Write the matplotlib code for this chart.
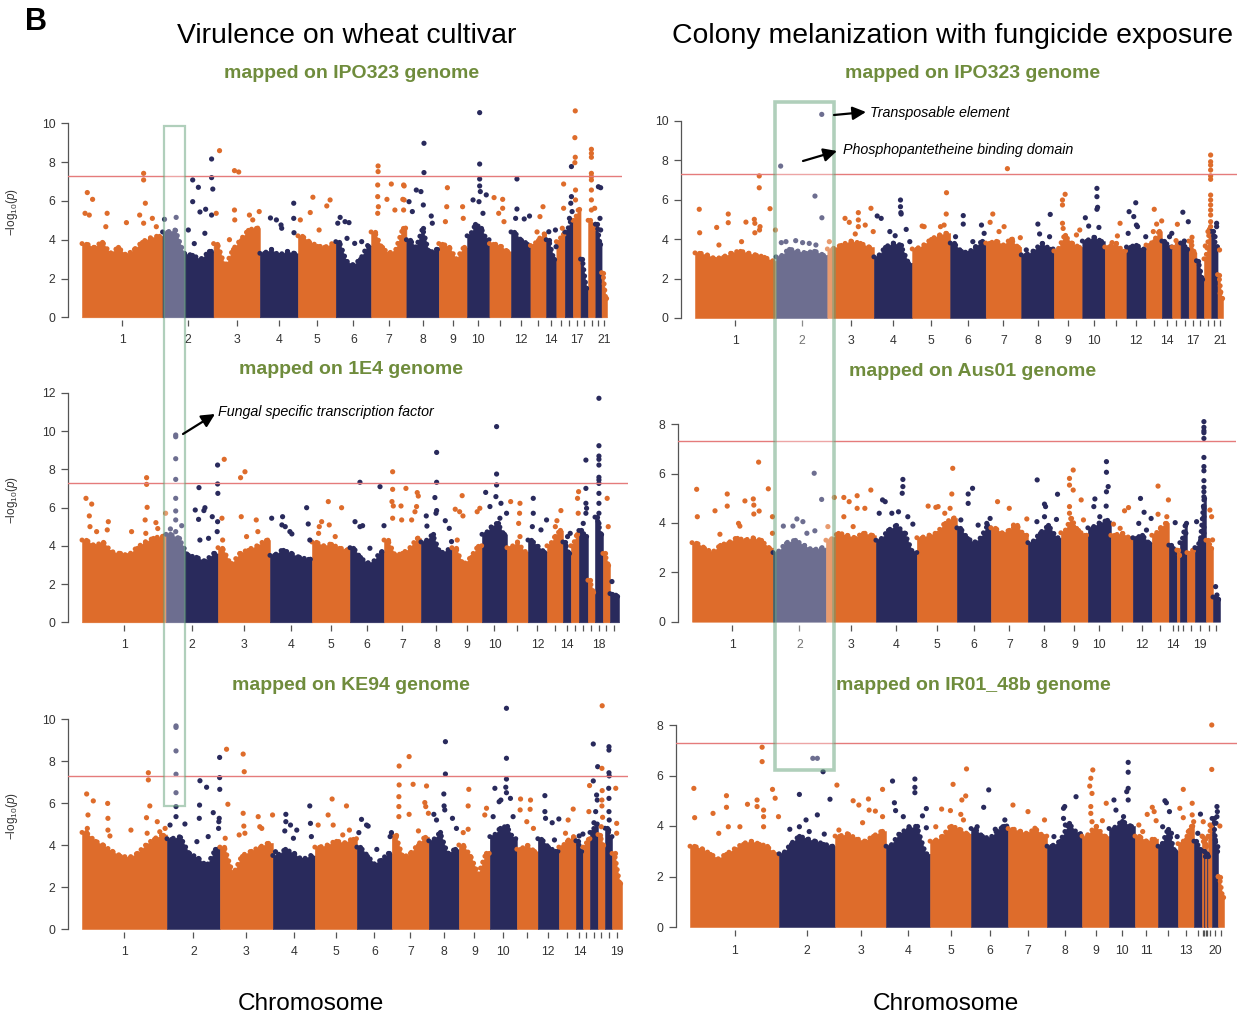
import matplotlib
matplotlib.use('Agg')
import matplotlib.pyplot as plt
from matplotlib.patches import Rectangle
import numpy as np

plt.rcParams['font.family'] = ['Liberation Sans', 'DejaVu Sans']
plt.rcParams['mathtext.fontset'] = 'custom'
plt.rcParams['mathtext.rm'] = 'Liberation Sans'
plt.rcParams['mathtext.it'] = 'Liberation Sans:italic'

W, H = 1244, 1017
ORANGE = '#DE6C2B'
NAVY = '#292A5C'
GREEN = '#6F8C3C'
THRESH = -np.log10(5e-8)

# ---------------- data ----------------
# chromosome lengths (Mb)
ipo_len = [6.09, 3.86, 3.50, 2.88, 2.86, 2.67, 2.67, 2.45, 2.14, 1.69, 1.63,
           1.47, 1.19, 0.77, 0.64, 0.61, 0.58, 0.57, 0.55, 0.47, 0.41]
ipo_names = list(range(1, 22))
e14_len = [6.32, 3.91, 3.91, 3.16, 2.86, 2.56, 2.78, 2.33, 2.26, 1.88, 1.58,
           1.43, 1.20, 0.60, 0.60, 0.68, 0.53, 0.60, 0.53, 0.68]
e14_names = list(range(1, 21))
ke_len = [6.39, 3.98, 3.98, 3.16, 3.16, 2.63, 2.78, 2.26, 2.33, 2.03, 1.58,
          1.58, 1.28, 0.53, 0.53, 0.60, 0.53, 0.53, 0.75]
ke_names = list(range(1, 20))
aus_len = [6.09, 3.98, 3.76, 3.08, 3.01, 2.56, 2.78, 2.48, 2.03, 1.73, 1.65,
           1.43, 1.28, 0.60, 0.23, 0.53, 0.60, 0.83, 0.53, 0.53]
aus_names = list(range(1, 15)) + list(range(16, 22))
ir_len = [6.69, 4.21, 3.83, 3.31, 3.08, 2.78, 2.93, 2.63, 2.03, 1.95, 1.73,
          1.50, 1.20, 0.60, 0.15, 0.08, 0.15, 0.08, 0.30, 0.45, 0.45]
ir_names = list(range(1, 22))

# upper edge of the dense SNP cloud, per chromosome (-log10 p)
vir_ipo_env = [[3.8, 3.6, 3.9, 3.3, 3.6, 3.2, 3.5, 3.9, 4.1, 4.2], [4.4, 4.5, 3.3, 3.2, 3.0, 3.4],
               [3.8, 2.6, 3.5, 4.0, 4.5, 4.6], [3.3, 3.5, 3.2, 3.4, 3.3], [4.2, 3.9, 3.7, 3.6, 3.8],
               [3.9, 2.9, 2.7, 3.0, 3.7], [4.4, 3.6, 3.3, 3.5, 4.6], [4.0, 3.6, 4.6, 3.3, 3.5],
               [3.8, 3.6, 3.0, 3.6], [4.2, 4.8, 4.6, 4.0], [3.8, 3.7, 3.4], [4.4, 4.0, 3.8],
               [3.7, 4.0, 4.3], [4.0, 3.0], [3.9, 4.3], [4.4, 5.0], [5.0, 5.6], [3.0, 1.5],
               [5.0, 4.6], [4.8, 3.8], [2.3, 1.0]]
vir_e14_env = [[4.3, 4.0, 4.2, 3.7, 3.6, 3.5, 3.9, 4.2, 4.4, 4.5], [4.6, 4.4, 3.5, 3.4, 3.2, 3.6],
               [3.9, 3.0, 3.6, 3.8, 4.0, 4.3], [3.5, 3.8, 3.6, 3.4, 3.3], [4.2, 4.0, 4.1, 3.9, 3.8],
               [3.9, 3.4, 3.1, 3.2, 3.7], [4.3, 3.5, 3.6, 3.9, 4.4], [4.2, 4.6, 3.6, 3.8],
               [3.9, 3.0, 3.4, 4.0], [4.6, 5.0, 5.2, 4.6], [3.9, 4.2, 3.7], [4.3, 4.0, 3.7],
               [4.0, 4.5, 4.8], [4.2, 3.6], [4.0, 4.6], [4.8, 4.5], [2.2, 1.6], [5.5, 4.6],
               [3.6, 3.0], [1.5, 1.4]]
vir_ke_env = [[4.6, 4.2, 4.0, 3.7, 3.5, 3.4, 3.6, 4.0, 4.3, 4.5], [4.3, 4.4, 3.6, 3.4, 3.0, 3.8],
              [3.9, 2.6, 3.5, 3.7, 3.9, 4.1], [3.5, 3.8, 3.6, 3.3, 3.5], [3.9, 4.0, 4.2, 4.1, 4.3],
              [3.9, 3.5, 3.1, 3.3, 3.6], [4.5, 3.4, 3.6, 4.0, 4.4], [4.2, 4.6, 3.6, 3.8],
              [4.0, 3.5, 2.6, 3.6], [4.4, 4.8, 4.9, 4.3], [3.8, 4.0, 3.7], [4.3, 3.9, 3.7],
              [3.9, 4.2, 4.4], [4.2, 3.7], [3.9, 4.3], [4.6, 5.0], [4.5, 4.0], [4.8, 4.4],
              [3.6, 2.2]]
col_ipo_env = [[3.3, 3.2, 3.0, 3.1, 3.3, 3.4, 3.3, 3.2, 3.1, 2.9], [3.1, 3.5, 3.4, 3.3, 3.4, 3.2],
               [3.5, 3.7, 3.9, 3.8, 3.6], [3.1, 3.6, 3.8, 3.7, 2.8], [3.5, 3.7, 4.0, 4.2, 4.3],
               [3.8, 3.4, 3.3, 3.6, 3.9], [3.8, 3.9, 3.7, 4.0, 3.6], [3.2, 3.4, 3.8, 3.5],
               [3.4, 4.2, 3.8, 3.6], [3.9, 4.1, 3.9], [3.6, 3.8, 3.4], [3.6, 3.7, 3.5],
               [3.7, 3.9, 4.4], [3.9, 3.6], [3.6, 3.8], [3.8, 3.5], [3.9, 3.3], [2.9, 2.0],
               [3.0, 4.5], [4.4, 3.6], [2.2, 1.0]]
col_aus_env = [[3.2, 3.0, 2.8, 3.1, 3.2, 3.4, 3.3, 3.4, 3.3, 3.0], [2.8, 3.2, 3.3, 3.1, 2.9, 3.0],
               [3.3, 3.6, 3.5, 3.4, 3.6, 3.5], [3.3, 3.7, 3.9, 3.6, 2.8], [3.4, 3.5, 3.6, 4.0, 4.2],
               [3.8, 3.4, 3.2, 3.4, 3.9], [3.8, 3.6, 3.7, 3.9, 3.5], [3.2, 3.6, 3.9, 3.4],
               [3.6, 4.2, 3.7, 3.5], [3.8, 4.0, 4.1], [3.5, 3.6, 3.4], [3.4, 3.5, 3.2],
               [3.5, 3.8, 4.0], [3.1, 2.9], [2.9, 2.7], [3.2, 3.9], [2.8, 2.9], [3.0, 3.3, 5.0],
               [3.3, 3.0], [1.0, 0.9]]
col_ir_env = [[3.2, 3.1, 2.9, 2.7, 2.9, 3.1, 3.3, 3.4, 3.3, 3.2, 2.9], [2.9, 3.3, 3.6, 3.5, 3.4, 3.3, 3.2],
              [3.6, 3.7, 3.5, 3.4, 3.6, 3.8], [3.2, 3.7, 3.9, 4.0, 2.9], [3.4, 3.6, 4.0, 3.9, 3.7],
              [3.9, 3.6, 3.5, 3.8, 4.0], [3.9, 3.8, 3.7, 3.9, 3.6], [3.2, 3.4, 4.1, 3.7],
              [3.6, 4.0, 3.6], [3.9, 4.2, 4.0], [3.6, 3.4, 3.5], [3.2, 3.9, 3.0],
              [3.3, 3.5, 4.0], [3.4, 3.1], [3.6, 3.4], [3.0, 2.8], [3.5, 3.2], [2.9, 2.8],
              [3.6, 4.0], [4.3, 3.0], [2.0, 1.2]]

# SNPs standing out above the cloud: (chromosome, position Mb, -log10 p)
vir_ipo_hits = [
    (1, 0.40, 6.43), (1, 0.80, 6.08), (1, 0.23, 5.36), (1, 0.55, 5.27), (1, 1.90, 5.36), (1, 1.80, 4.67),
    (1, 3.36, 4.88), (1, 4.36, 5.27), (1, 4.66, 7.42), (1, 4.66, 7.08), (1, 4.79, 5.88), (1, 4.66, 4.85),
    (1, 5.32, 5.10), (1, 5.62, 4.67),
    (2, 0.15, 5.05), (2, 1.03, 5.15), (2, 2.28, 7.08), (2, 2.28, 5.96), (2, 2.71, 6.70), (2, 2.83, 5.43),
    (2, 3.26, 5.57), (2, 3.71, 8.16), (2, 3.71, 7.20), (2, 3.80, 6.61), (2, 3.71, 5.27), (2, 1.95, 4.50),
    (2, 2.40, 3.80), (2, 3.20, 4.33),
    (3, 0.45, 8.59), (3, 0.20, 5.36), (3, 1.58, 7.56), (3, 1.90, 7.49), (3, 1.58, 5.53), (3, 1.60, 5.02),
    (3, 2.71, 5.27), (3, 2.96, 5.02), (3, 3.45, 5.45), (3, 1.20, 4.00),
    (4, 0.80, 5.12), (4, 1.25, 5.02), (4, 1.60, 4.76), (4, 1.65, 4.59), (4, 2.56, 5.88), (4, 2.56, 5.10),
    (4, 2.58, 4.36),
    (5, 1.13, 6.19), (5, 0.93, 5.40), (5, 2.18, 5.74), (5, 2.43, 6.05), (5, 0.18, 5.02), (5, 1.60, 4.50),
    (6, 0.33, 5.15), (6, 0.70, 4.93), (6, 1.00, 4.88), (6, 0.15, 4.85), (6, 0.85, 4.07), (6, 1.43, 3.81),
    (6, 1.96, 3.90),
    (7, 0.53, 7.80), (7, 0.53, 7.51), (7, 0.50, 6.82), (7, 0.50, 6.22), (7, 0.55, 5.70), (7, 0.50, 5.36),
    (7, 1.53, 6.87), (7, 1.20, 6.08), (7, 2.46, 6.82), (7, 2.50, 6.77), (7, 2.40, 6.08), (7, 2.50, 6.05),
    (7, 2.46, 5.53), (7, 1.80, 5.53),
    (8, 1.33, 8.97), (8, 1.33, 7.46), (8, 0.75, 6.56), (8, 1.10, 6.48), (8, 0.20, 5.96), (8, 1.28, 5.79),
    (8, 0.45, 5.45), (8, 1.88, 5.22), (8, 1.96, 4.85),
    (9, 0.65, 6.68), (9, 0.60, 5.70), (9, 1.80, 5.70), (9, 1.85, 5.10), (9, 0.50, 4.93),
    (10, 0.95, 10.55), (10, 0.95, 7.90), (10, 0.95, 7.13), (10, 0.95, 6.77), (10, 1.00, 6.48),
    (10, 0.45, 6.05), (10, 1.45, 6.31), (10, 0.90, 5.96), (10, 1.20, 5.36),
    (11, 0.35, 6.17), (11, 1.00, 6.08), (11, 1.00, 5.62), (11, 0.70, 5.36), (11, 1.10, 4.93),
    (12, 0.45, 7.13), (12, 0.45, 5.58), (12, 1.00, 5.07), (12, 1.40, 5.22), (12, 0.35, 5.10),
    (13, 0.95, 5.70), (13, 0.72, 5.19), (13, 0.50, 4.40),
    (14, 0.20, 4.41), (14, 0.70, 4.50), (14, 0.75, 3.64),
    (15, 0.55, 6.87), (15, 0.55, 5.62), (15, 0.45, 4.59),
    (16, 0.50, 7.77), (16, 0.50, 6.22), (16, 0.45, 5.88), (16, 0.35, 5.10), (16, 0.55, 5.45),
    (17, 0.18, 10.64), (17, 0.15, 9.26), (17, 0.18, 8.25), (17, 0.15, 7.97), (17, 0.20, 6.56), (17, 0.20, 6.05),
    (19, 0.25, 8.66), (19, 0.25, 8.45), (19, 0.25, 8.25), (19, 0.25, 7.42), (19, 0.25, 7.25), (19, 0.25, 7.08),
    (19, 0.25, 6.56), (19, 0.25, 6.05), (19, 0.25, 5.53), (19, 0.50, 5.62),
    (20, 0.23, 6.73), (20, 0.40, 6.68), (20, 0.35, 5.10), (20, 0.40, 4.50),
]
vir_e14_hits = [
    (1, 0.30, 6.48), (1, 0.73, 6.18), (1, 0.55, 5.56), (1, 0.60, 5.00), (1, 1.10, 4.74), (1, 1.98, 5.26),
    (1, 1.90, 4.83), (1, 3.73, 4.74), (1, 4.86, 7.56), (1, 4.86, 7.21), (1, 4.90, 6.01), (1, 4.75, 5.35),
    (1, 4.80, 4.65), (1, 5.56, 5.21), (1, 5.70, 4.90), (1, 6.29, 5.70),
    (2, 0.73, 9.79), (2, 0.73, 9.70), (2, 0.73, 8.55), (2, 0.73, 7.47), (2, 0.73, 6.48), (2, 0.73, 5.82),
    (2, 0.73, 5.35), (2, 0.73, 4.74), (2, 1.18, 5.05), (2, 0.33, 4.88), (2, 2.48, 7.04), (2, 2.20, 5.87),
    (2, 2.45, 5.38), (2, 2.93, 5.99), (2, 2.85, 5.84), (2, 3.48, 5.52), (2, 3.88, 8.22), (2, 3.88, 7.23),
    (2, 3.90, 6.74), (2, 3.88, 5.26), (2, 3.85, 4.74), (2, 2.55, 4.30), (2, 3.20, 4.39),
    (3, 0.47, 8.52), (3, 1.70, 7.56), (3, 2.03, 7.87), (3, 1.75, 5.52), (3, 0.30, 5.44), (3, 2.88, 5.35),
    (3, 3.00, 4.74), (3, 0.35, 4.30), (3, 2.15, 4.48),
    (4, 0.13, 5.44), (4, 0.95, 5.52), (4, 0.90, 5.09), (4, 1.15, 5.00), (4, 1.50, 4.74), (4, 1.65, 4.62),
    (4, 2.76, 5.99), (4, 2.88, 5.14), (4, 3.00, 4.30),
    (5, 0.55, 5.00), (5, 1.23, 6.31), (5, 2.23, 5.99), (5, 0.73, 5.26), (5, 1.30, 5.09), (5, 1.75, 4.48),
    (5, 0.50, 4.65),
    (6, 0.75, 7.32), (6, 0.38, 5.26), (6, 0.75, 5.00), (6, 0.95, 5.05), (6, 2.26, 7.09), (6, 2.56, 5.05),
    (6, 1.50, 3.87),
    (7, 0.65, 7.87), (7, 0.65, 6.95), (7, 0.60, 6.31), (7, 0.70, 6.08), (7, 0.65, 5.44), (7, 1.28, 6.08),
    (7, 1.33, 5.35), (7, 1.65, 7.00), (7, 2.50, 6.78), (7, 2.58, 6.60), (7, 2.45, 6.05), (7, 2.33, 5.78),
    (7, 2.08, 5.35),
    (8, 1.18, 8.88), (8, 1.18, 7.32), (8, 1.05, 6.52), (8, 1.18, 5.84), (8, 1.13, 5.70), (8, 0.40, 5.56),
    (8, 0.45, 5.03), (8, 1.83, 5.31), (8, 2.13, 4.91), (8, 2.30, 4.22),
    (9, 0.77, 6.62), (9, 0.25, 5.91), (9, 0.58, 5.78), (9, 0.83, 5.56), (9, 2.10, 5.96), (9, 1.90, 5.78),
    (9, 0.40, 4.30),
    (10, 1.10, 10.23), (10, 1.10, 7.75), (10, 1.10, 7.18), (10, 1.05, 6.57), (10, 0.28, 6.79),
    (10, 0.60, 6.05), (10, 1.43, 6.22), (10, 1.85, 5.70), (10, 1.35, 5.44),
    (11, 0.28, 6.31), (11, 0.98, 6.22), (11, 0.95, 5.70), (11, 0.88, 5.17), (11, 0.98, 4.48),
    (12, 0.40, 6.48), (12, 0.40, 5.70), (12, 0.33, 5.00), (12, 1.40, 5.35), (12, 0.98, 4.83),
    (13, 1.05, 5.84), (13, 0.75, 5.31), (13, 0.63, 5.00),
    (14, 0.55, 4.65), (14, 0.35, 4.48),
    (15, 0.50, 6.48), (15, 0.58, 6.83), (15, 0.55, 5.70),
    (16, 0.53, 8.48), (16, 0.53, 7.00), (16, 0.53, 6.22), (16, 0.58, 5.96), (16, 0.53, 5.70), (16, 0.33, 5.17),
    (18, 0.30, 11.71), (18, 0.30, 9.23), (18, 0.30, 8.69), (18, 0.30, 8.52), (18, 0.30, 8.22), (18, 0.30, 7.58),
    (18, 0.30, 7.44), (18, 0.30, 7.26), (18, 0.30, 6.74), (18, 0.30, 6.22), (18, 0.30, 5.70), (18, 0.30, 5.17),
    (19, 0.32, 6.48), (19, 0.40, 5.00),
    (20, 0.15, 2.13),
]
vir_ke_hits = [
    (1, 0.35, 6.43), (1, 0.85, 6.10), (1, 0.45, 5.43), (1, 0.40, 4.79), (1, 1.93, 5.98), (1, 1.95, 5.27),
    (1, 1.95, 4.71), (1, 2.10, 4.43), (1, 3.68, 4.71), (1, 4.99, 7.44), (1, 4.99, 7.10), (1, 5.10, 5.86),
    (1, 4.85, 5.30), (1, 4.90, 4.56), (1, 5.66, 5.11), (1, 5.85, 4.63), (1, 6.25, 4.79),
    (2, 0.68, 9.67), (2, 0.68, 9.60), (2, 0.68, 8.48), (2, 0.68, 7.37), (2, 0.68, 6.49), (2, 0.68, 5.83),
    (2, 0.68, 5.35), (2, 0.23, 4.95), (2, 1.35, 5.00), (2, 2.48, 7.06), (2, 2.98, 6.75), (2, 2.45, 5.90),
    (2, 2.43, 5.27), (2, 3.48, 5.54), (2, 3.96, 8.17), (2, 3.96, 7.21), (2, 3.97, 6.65), (2, 3.93, 5.27),
    (2, 3.90, 5.11), (2, 3.88, 4.79), (2, 3.10, 4.40), (2, 2.25, 4.16),
    (3, 0.50, 8.56), (3, 0.60, 5.94), (3, 1.75, 8.33), (3, 1.83, 7.49), (3, 1.75, 5.51), (3, 1.80, 4.90),
    (3, 1.45, 4.48), (3, 1.88, 4.56), (3, 2.88, 5.35), (3, 3.00, 4.87), (3, 3.15, 4.79), (3, 3.96, 5.43),
    (3, 0.40, 4.32),
    (4, 0.98, 5.46), (4, 0.98, 5.11), (4, 1.33, 4.95), (4, 0.90, 4.67), (4, 1.55, 4.32), (4, 1.80, 4.71),
    (4, 2.78, 5.86), (4, 2.83, 5.03), (4, 2.90, 4.40), (4, 0.20, 3.68),
    (5, 1.00, 5.43), (5, 1.30, 6.19), (5, 2.38, 5.86), (5, 1.38, 4.95), (5, 2.60, 4.71), (5, 2.10, 4.48),
    (5, 0.25, 4.95),
    (6, 0.35, 5.22), (6, 0.73, 4.95), (6, 0.85, 4.90), (6, 0.15, 4.59), (6, 1.50, 3.79), (6, 2.60, 4.59),
    (6, 2.50, 4.40),
    (7, 0.55, 7.76), (7, 0.55, 6.86), (7, 0.53, 6.30), (7, 0.53, 5.83), (7, 0.53, 5.35), (7, 1.30, 8.21),
    (7, 1.60, 6.89), (7, 1.30, 5.46), (7, 2.61, 6.81), (7, 2.48, 6.02), (7, 2.55, 5.83), (7, 2.75, 5.51),
    (7, 2.00, 4.67),
    (8, 1.25, 8.92), (8, 1.25, 7.38), (8, 1.13, 6.43), (8, 1.15, 5.86), (8, 1.20, 5.67), (8, 0.38, 5.46),
    (8, 0.58, 5.19), (8, 1.78, 5.27), (8, 2.08, 4.79),
    (9, 0.75, 6.65), (9, 0.70, 5.86), (9, 0.70, 4.75), (9, 2.08, 5.75), (9, 1.95, 5.43), (9, 0.33, 4.59),
    (10, 1.25, 10.51), (10, 1.25, 8.13), (10, 1.25, 7.14), (10, 1.20, 6.75), (10, 1.25, 6.49),
    (10, 0.38, 6.70), (10, 0.70, 6.06), (10, 0.83, 6.14), (10, 1.55, 6.22), (10, 0.25, 5.35), (10, 1.75, 5.35),
    (11, 0.28, 6.19), (11, 1.03, 6.14), (11, 0.25, 5.67), (11, 1.00, 5.70), (11, 0.75, 5.11), (11, 1.25, 4.79),
    (12, 0.53, 6.35), (12, 0.53, 5.59), (12, 0.58, 5.27), (12, 1.08, 5.06), (12, 1.58, 5.24), (12, 1.25, 4.24),
    (13, 1.08, 5.71), (13, 0.70, 5.19), (13, 0.50, 4.56),
    (14, 0.25, 4.43), (14, 0.53, 4.52),
    (15, 0.50, 6.83), (15, 0.45, 5.59),
    (16, 0.25, 8.81), (16, 0.25, 7.05), (16, 0.58, 7.73), (16, 0.50, 6.38), (16, 0.55, 6.14), (16, 0.43, 5.59),
    (16, 0.30, 5.06),
    (17, 0.32, 10.63), (17, 0.30, 7.65), (17, 0.32, 6.59), (17, 0.30, 6.14), (17, 0.30, 5.86), (17, 0.35, 5.32),
    (17, 0.25, 4.87),
    (18, 0.30, 8.68), (18, 0.30, 8.52), (18, 0.30, 7.44), (18, 0.32, 7.29), (18, 0.28, 6.70), (18, 0.30, 6.22),
    (18, 0.30, 5.59), (18, 0.32, 5.19), (18, 0.28, 4.71),
    (19, 0.28, 6.70), (19, 0.35, 5.03), (19, 0.35, 4.56),
]
col_ipo_hits = [
    (1, 0.32, 5.51), (1, 0.35, 4.32), (1, 1.63, 4.59), (1, 1.80, 3.70), (1, 2.50, 5.27), (1, 2.50, 4.83),
    (1, 3.50, 3.87), (1, 3.83, 4.86), (1, 4.46, 5.00), (1, 4.50, 4.80), (1, 4.50, 4.32), (1, 4.89, 4.63),
    (1, 4.85, 4.46), (1, 4.83, 7.20), (1, 4.83, 6.60), (1, 5.64, 5.54), (1, 6.05, 4.46),
    (2, 0.35, 7.70), (2, 3.44, 10.32), (2, 2.93, 6.18), (2, 3.45, 5.08), (2, 0.40, 3.82), (2, 0.75, 3.87),
    (2, 1.48, 3.92), (2, 2.00, 3.82), (2, 2.50, 3.78), (2, 3.00, 3.70),
    (3, 1.33, 5.05), (3, 1.65, 4.85), (3, 2.33, 5.34), (3, 2.33, 4.97), (3, 2.33, 4.63), (3, 2.10, 4.26),
    (3, 3.28, 5.56), (3, 2.85, 4.71), (3, 3.45, 4.38), (3, 0.15, 3.87),
    (4, 0.25, 5.17), (4, 0.55, 5.05), (4, 2.00, 5.98), (4, 2.00, 5.64), (4, 2.03, 5.34), (4, 2.05, 5.27),
    (4, 2.43, 4.49), (4, 1.20, 4.38), (4, 1.60, 4.17), (4, 2.70, 3.87),
    (5, 0.75, 4.66), (5, 0.90, 4.63), (5, 2.58, 6.35), (5, 2.56, 5.27), (5, 2.40, 4.71), (5, 2.13, 4.63),
    (6, 0.98, 5.19), (6, 0.98, 4.76), (6, 2.35, 4.71), (6, 2.55, 4.29), (6, 0.40, 4.12), (6, 1.70, 3.87),
    (7, 1.63, 7.57), (7, 0.53, 5.27), (7, 0.33, 4.85), (7, 1.38, 4.63), (7, 1.00, 4.38), (7, 2.60, 4.07),
    (7, 2.00, 3.99),
    (8, 2.18, 5.25), (8, 1.25, 4.76), (8, 1.38, 4.26), (8, 2.13, 4.12), (8, 0.38, 3.45),
    (9, 0.85, 6.27), (9, 0.65, 5.98), (9, 0.65, 5.73), (9, 0.65, 4.80), (9, 0.70, 4.54), (9, 1.95, 4.46),
    (9, 1.70, 4.21),
    (10, 1.10, 6.57), (10, 1.10, 6.15), (10, 1.15, 5.61), (10, 1.10, 5.51), (10, 0.23, 5.08), (10, 0.48, 4.66),
    (10, 1.25, 4.59),
    (11, 1.15, 4.80), (11, 0.95, 4.16), (11, 0.55, 3.82),
    (12, 0.70, 5.84), (12, 0.20, 5.39), (12, 0.55, 5.14), (12, 0.75, 4.71), (12, 0.83, 4.63), (12, 0.13, 4.29),
    (12, 1.45, 4.12),
    (13, 0.62, 5.51), (13, 0.80, 4.76), (13, 1.18, 4.92), (13, 0.55, 4.38),
    (14, 0.75, 4.29), (14, 0.58, 4.12),
    (15, 0.30, 3.92), (15, 0.40, 4.75),
    (16, 0.17, 5.36), (16, 0.58, 4.88), (16, 0.28, 3.90),
    (17, 0.25, 4.09),
    (19, 0.50, 8.26), (19, 0.50, 7.92), (19, 0.50, 7.75), (19, 0.50, 7.50), (19, 0.50, 7.20), (19, 0.50, 7.03),
    (19, 0.50, 6.23), (19, 0.50, 5.98), (19, 0.50, 5.73), (19, 0.50, 5.47), (19, 0.50, 5.22), (19, 0.50, 4.88),
    (19, 0.50, 4.63), (19, 0.30, 4.38), (19, 0.10, 3.65),
    (20, 0.40, 4.80), (20, 0.40, 4.63), (20, 0.28, 4.12), (20, 0.45, 3.61),
    (21, 0.15, 3.45), (21, 0.20, 1.25),
]
col_aus_hits = [
    (1, 0.35, 5.36), (1, 0.40, 4.25), (1, 1.73, 4.49), (1, 2.10, 3.54), (1, 2.65, 5.17), (1, 2.65, 4.68),
    (1, 3.50, 3.98), (1, 3.60, 3.87), (1, 3.98, 4.89), (1, 4.61, 4.97), (1, 4.65, 4.72), (1, 4.65, 4.36),
    (1, 5.05, 4.48), (1, 5.01, 6.46), (1, 5.74, 5.38), (1, 6.05, 4.25), (1, 6.05, 3.58),
    (2, 0.78, 3.87), (2, 1.50, 3.87), (2, 1.80, 4.16), (2, 2.25, 4.05), (2, 3.10, 6.01), (2, 3.66, 4.95),
    (2, 2.55, 3.58), (2, 3.15, 3.68),
    (3, 0.15, 3.85), (3, 0.63, 5.03), (3, 1.35, 5.03), (3, 1.75, 4.86), (3, 2.35, 5.10), (3, 2.35, 4.59),
    (3, 2.93, 4.59), (3, 3.38, 5.33), (3, 1.35, 4.25), (3, 2.05, 3.85),
    (4, 0.25, 4.39), (4, 0.50, 4.93), (4, 0.70, 4.86), (4, 1.20, 4.39), (4, 1.70, 4.45), (4, 2.03, 5.76),
    (4, 2.03, 5.47), (4, 1.98, 5.20), (4, 2.40, 4.25), (4, 2.78, 3.95),
    (5, 0.85, 4.68), (5, 1.43, 4.63), (5, 2.63, 5.17), (5, 2.70, 6.21), (5, 2.50, 4.59), (5, 2.10, 4.39),
    (5, 1.60, 4.66),
    (6, 0.85, 5.17), (6, 1.18, 5.40), (6, 0.85, 4.79), (6, 0.30, 4.12), (6, 1.60, 3.91), (6, 2.50, 4.18),
    (6, 2.25, 3.98),
    (7, 0.50, 4.86), (7, 1.38, 4.59), (7, 2.70, 4.16), (7, 1.70, 3.91),
    (8, 0.70, 5.74), (8, 1.25, 4.76), (8, 1.33, 4.66), (8, 1.25, 4.25), (8, 2.23, 5.16), (8, 2.15, 4.14),
    (8, 0.68, 4.05),
    (9, 0.93, 6.14), (9, 0.65, 5.80), (9, 0.65, 5.53), (9, 0.93, 5.33), (9, 0.65, 4.66), (9, 0.65, 4.39),
    (9, 1.53, 4.93), (9, 1.70, 4.12), (9, 0.95, 3.85),
    (10, 1.40, 6.48), (10, 1.40, 6.05), (10, 1.53, 5.47), (10, 1.40, 5.26), (10, 0.53, 4.97), (10, 0.45, 4.66),
    (10, 1.38, 4.68), (10, 0.90, 4.25),
    (11, 1.03, 4.49), (11, 1.33, 4.62), (11, 0.70, 3.78), (11, 0.20, 3.95),
    (12, 0.58, 4.99), (12, 0.85, 4.43), (12, 0.45, 3.98), (12, 1.03, 3.71), (12, 1.38, 4.18),
    (13, 0.47, 5.49), (13, 1.25, 4.93), (13, 0.47, 4.35), (13, 1.13, 4.25), (13, 0.58, 3.41),
    (14, 0.48, 4.01),
    (17, 0.50, 3.98), (17, 0.45, 3.58),
    (19, 0.13, 4.05), (19, 0.68, 8.10), (19, 0.68, 7.87), (19, 0.68, 7.73), (19, 0.68, 7.65), (19, 0.68, 7.42),
    (19, 0.68, 6.65), (19, 0.68, 6.28), (19, 0.68, 6.11), (19, 0.68, 5.71), (19, 0.68, 5.44), (19, 0.68, 5.26),
    (19, 0.68, 5.06), (19, 0.68, 4.68), (19, 0.68, 4.59), (19, 0.68, 4.25), (19, 0.68, 3.82), (19, 0.68, 3.58),
    (20, 0.30, 4.52), (20, 0.43, 4.25), (20, 0.50, 3.31),
    (21, 0.20, 1.42), (21, 0.30, 1.08),
]
col_ir_hits = [
    (1, 0.29, 5.49), (1, 0.35, 4.33), (1, 1.73, 4.50), (1, 2.16, 3.71), (1, 2.74, 5.20), (1, 2.74, 4.74),
    (1, 2.88, 3.97), (1, 3.75, 3.97), (1, 4.32, 4.86), (1, 5.04, 5.03), (1, 5.04, 4.77), (1, 5.42, 7.12),
    (1, 5.42, 6.55), (1, 5.53, 4.63), (1, 5.53, 4.37), (1, 5.53, 3.97), (1, 6.20, 5.45), (1, 6.40, 5.10),
    (1, 6.65, 4.37),
    (2, 0.81, 3.87), (2, 1.53, 5.25), (2, 1.53, 3.97), (2, 2.03, 4.24), (2, 2.54, 6.68), (2, 2.88, 6.68),
    (2, 2.88, 4.44), (2, 3.31, 6.15), (2, 3.83, 5.06), (2, 2.27, 3.78), (2, 3.40, 3.68),
    (3, 0.14, 5.62), (3, 0.29, 3.84), (3, 1.36, 5.00), (3, 1.79, 4.83), (3, 2.51, 5.07), (3, 2.56, 4.63),
    (3, 2.07, 4.13), (3, 3.03, 4.59), (3, 3.57, 5.45), (3, 3.57, 4.37),
    (4, 0.49, 5.78), (4, 0.63, 4.92), (4, 0.72, 4.61), (4, 1.30, 4.37), (4, 2.17, 5.86), (4, 2.17, 5.53),
    (4, 2.17, 5.32), (4, 2.74, 4.40), (4, 3.03, 4.69), (4, 3.03, 3.93), (4, 1.73, 3.97),
    (5, 0.87, 4.67), (5, 1.53, 4.61), (5, 1.73, 5.65), (5, 2.31, 4.46), (5, 2.39, 5.03), (5, 2.68, 5.19),
    (5, 2.74, 6.26), (5, 2.51, 4.24), (5, 0.43, 3.97),
    (6, 0.95, 4.74), (6, 1.33, 5.43), (6, 0.46, 3.97), (6, 1.82, 3.87), (6, 2.54, 4.24), (6, 2.39, 3.97),
    (7, 0.37, 4.83), (7, 1.50, 4.57), (7, 2.74, 4.24), (7, 2.02, 3.91),
    (8, 1.24, 4.70), (8, 1.33, 4.77), (8, 1.24, 4.30), (8, 2.18, 5.16), (8, 1.38, 4.04), (8, 0.52, 3.58),
    (9, 0.81, 6.22), (9, 0.66, 5.89), (9, 0.58, 5.58), (9, 0.75, 5.29), (9, 0.66, 4.77), (9, 0.66, 4.50),
    (9, 0.75, 4.17), (9, 1.82, 4.90), (9, 1.53, 4.21),
    (10, 1.44, 6.52), (10, 1.44, 6.13), (10, 1.44, 5.49), (10, 1.33, 5.36), (10, 1.44, 5.03), (10, 0.37, 5.03),
    (10, 0.52, 4.63), (10, 1.09, 4.37), (10, 0.81, 4.00),
    (11, 0.29, 4.04), (11, 0.58, 3.78), (11, 1.30, 4.74), (11, 1.44, 4.57), (11, 0.92, 4.46), (11, 1.59, 4.21),
    (12, 0.52, 5.00), (12, 0.63, 4.92), (12, 0.86, 4.57), (12, 0.35, 3.97), (12, 1.01, 3.71), (12, 1.44, 3.58),
    (13, 0.40, 5.45), (13, 0.40, 4.33), (13, 0.14, 4.70), (13, 1.07, 4.90), (13, 1.07, 4.44), (13, 1.18, 4.17),
    (13, 0.78, 3.78),
    (14, 0.49, 4.47), (14, 0.29, 3.71),
    (15, 0.10, 4.17),
    (19, 0.28, 8.00), (19, 0.28, 6.24), (19, 0.15, 4.04),
    (20, 0.37, 4.77), (20, 0.40, 4.57), (20, 0.37, 4.37), (20, 0.30, 4.11), (20, 0.25, 3.45), (20, 0.43, 3.18),
    (21, 0.14, 4.00), (21, 0.03, 1.99),
]

# which chromosome labels are printed under each panel
vir_ipo_shown = [1, 2, 3, 4, 5, 6, 7, 8, 9, 10, 12, 14, 17, 21]
vir_e14_shown = [1, 2, 3, 4, 5, 6, 7, 8, 9, 10, 12, 14, 18]
vir_ke_shown = [1, 2, 3, 4, 5, 6, 7, 8, 9, 10, 12, 14, 19]
col_ipo_shown = [1, 2, 3, 4, 5, 6, 7, 8, 9, 10, 12, 14, 17, 21]
col_aus_shown = [1, 2, 3, 4, 5, 6, 7, 8, 9, 10, 12, 14, 19]
col_ir_shown = [1, 2, 3, 4, 5, 6, 7, 8, 9, 10, 11, 13, 20]


# ---------------- drawing ----------------
def manhattan(ax, lens, names, env, hits, shown):
    lens = np.asarray(lens)
    starts = np.concatenate([[0], np.cumsum(lens)[:-1]])
    for i, (s, L, e) in enumerate(zip(starts, lens, env)):
        c = ORANGE if i % 2 == 0 else NAVY
        n = len(e)
        xc = s + (np.arange(n) + 0.5) * L / n
        xs = np.concatenate([[s], xc, [s + L]])
        ys = np.concatenate([[e[0]], e, [e[-1]]])
        ax.fill_between(xs, 0, ys, color=c, lw=0.4, zorder=2)
        # beaded rim so the cloud edge looks like stacked points
        ax.plot(xs, ys, color=c, lw=3.6, ls=(0, (0.01, 1.25)), dash_capstyle='round',
                solid_capstyle='round', zorder=3)
        ax.scatter(xc, e, s=14, color=c, lw=0, zorder=3)
    idx = {nm: i for i, nm in enumerate(names)}
    hx = [starts[idx[ch]] + p for ch, p, v in hits]
    hy = [v for ch, p, v in hits]
    hc = [ORANGE if idx[ch] % 2 == 0 else NAVY for ch, p, v in hits]
    ax.scatter(hx, hy, s=14, c=hc, lw=0, zorder=4)
    ax.axhline(THRESH, color='#E57B7B', lw=1.0, zorder=5)
    mids = starts + lens / 2
    ax.set_xticks(mids)
    ax.set_xticklabels([str(n) if n in shown else '' for n in names])
    return starts[-1] + lens[-1]


def place(ax, total, sx, rx, x0, x1, y0, k, ytop, ytick_max, ylabel):
    ymin = -0.12
    scale = (x1 - x0) / total
    ax.set_position([sx / W, 1 - (y0 - ymin * k) / H, (rx - sx) / W, (ytop - ymin) * k / H])
    ax.set_xlim(-(x0 - sx) / scale, total + (rx - x1) / scale)
    ax.set_ylim(ymin, ytop)
    ax.set_facecolor('none')
    for sp in ['top', 'right', 'bottom']:
        ax.spines[sp].set_visible(False)
    ax.spines['left'].set_bounds(0, ytick_max)
    ax.spines['left'].set_color('#555555')
    ax.spines['left'].set_linewidth(0.9)
    ax.set_yticks(np.arange(0, ytick_max + 1, 2))
    ax.tick_params(axis='y', length=5, width=0.9, color='#555555', labelsize=8.8,
                   labelcolor='#333333', pad=4)
    ax.tick_params(axis='x', length=4.5, width=0.9, color='#555555', labelsize=8.8,
                   labelcolor='#333333', pad=6)
    if ylabel:
        ax.set_ylabel(r'$-\mathrm{log}_{10}(p)$', fontsize=8.5, color='#333333')
        ax.yaxis.set_label_coords((20 - sx) / (rx - sx),
                                  (ytick_max / 2 + 0.4 - ymin) / (ytop - ymin))


fig = plt.figure(figsize=(W / 100, H / 100), dpi=100)

panels = [
    (vir_ipo_env, vir_ipo_hits, ipo_len, ipo_names, vir_ipo_shown, (68, 622, 82, 607, 317.3, 19.4, 11.0, 10, True)),
    (vir_e14_env, vir_e14_hits, e14_len, e14_names, vir_e14_shown, (68, 628, 82, 619, 622.3, 19.13, 12.3, 12, True)),
    (vir_ke_env, vir_ke_hits, ke_len, ke_names, vir_ke_shown, (68, 628, 82, 622, 929.0, 21.0, 11.0, 10, True)),
    (col_ipo_env, col_ipo_hits, ipo_len, ipo_names, col_ipo_shown, (681, 1237, 695, 1223, 318.0, 19.73, 10.7, 10, False)),
    (col_aus_env, col_aus_hits, aus_len, aus_names, col_aus_shown, (678, 1236, 692, 1220, 621.7, 24.7, 8.4, 8, False)),
    (col_ir_env, col_ir_hits, ir_len, ir_names, col_ir_shown, (676, 1237, 690, 1224, 927.0, 25.25, 8.3, 8, False)),
]
for env, hits, lens, names, shown, lay in panels:
    ax = fig.add_axes([0, 0, 1, 1])
    total = manhattan(ax, lens, names, env, hits, shown)
    place(ax, total, *lay)

# overlay for titles, highlight boxes and arrows (figure pixel space)
ov = fig.add_axes([0, 0, 1, 1], zorder=10)
ov.set_xlim(0, W)
ov.set_ylim(H, 0)
ov.axis('off')
ov.patch.set_alpha(0)

ov.text(25, 22, 'B', fontsize=22, fontweight='bold', va='center', ha='left')
ov.text(347, 36, 'Virulence on wheat cultivar', fontsize=20.4, ha='center', va='center')
ov.text(953, 36, 'Colony melanization with fungicide exposure', fontsize=20.4, ha='center', va='center')
for x, y, g in [(352, 74, 'IPO323'), (351, 370, '1E4'), (351, 685, 'KE94'),
                (973, 74, 'IPO323'), (973, 371, 'Aus01'), (973, 685, 'IR01_48b')]:
    ov.text(x, y, f'mapped on {g} genome', fontsize=14, fontweight='bold', color=GREEN,
            ha='center', va='center')
ov.text(311, 1004, 'Chromosome', fontsize=17.6, ha='center', va='center')
ov.text(946, 1004, 'Chromosome', fontsize=17.6, ha='center', va='center')

box_face = (1, 1, 1, 0.32)
box_edge = (0.39, 0.63, 0.47, 0.5)
ov.add_patch(Rectangle((164, 126), 21, 680, facecolor=box_face, edgecolor=box_edge, lw=1.6))
ov.add_patch(Rectangle((775, 102), 59, 668, facecolor=box_face, edgecolor=box_edge, lw=2.6))

arrow = dict(arrowstyle='-|>', color='black', lw=1.6, mutation_scale=20, shrinkA=0, shrinkB=0)
ov.annotate('', xy=(215, 414), xytext=(183, 434), arrowprops=arrow)
ov.annotate('', xy=(866, 112), xytext=(834, 115), arrowprops=arrow)
ov.annotate('', xy=(837, 151), xytext=(803, 161), arrowprops=arrow)
ov.text(218, 412, 'Fungal specific transcription factor', fontsize=10.3, style='italic',
        ha='left', va='center')
ov.text(870, 113, 'Transposable element', fontsize=10.3, style='italic', ha='left', va='center')
ov.text(843, 150, 'Phosphopantetheine binding domain', fontsize=10.3, style='italic',
        ha='left', va='center')

fig.savefig('out.png', dpi=100)
